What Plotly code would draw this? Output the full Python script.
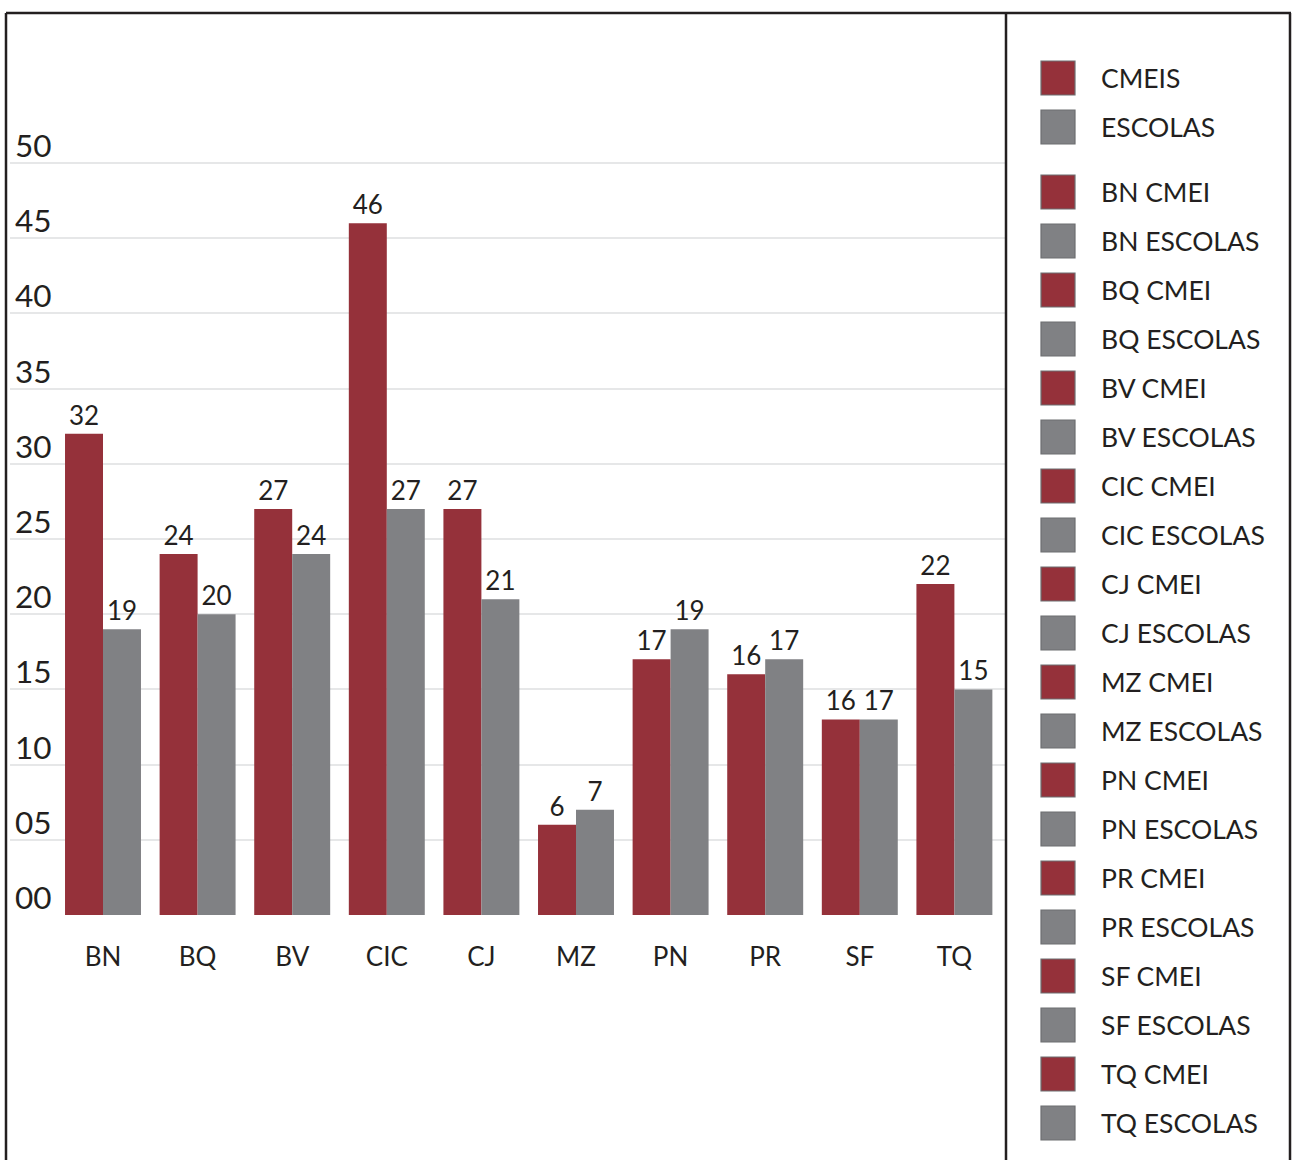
import plotly.graph_objects as go

# ---- data ----
categories = ["BN", "BQ", "BV", "CIC", "CJ", "MZ", "PN", "PR", "SF", "TQ"]
cmei_values = [32, 24, 27, 46, 27, 6, 17, 16, 13, 22]
escolas_values = [19, 20, 24, 27, 21, 7, 19, 17, 13, 15]
cmei_labels = ["32", "24", "27", "46", "27", "6", "17", "16", "16", "22"]
escolas_labels = ["19", "20", "24", "27", "21", "7", "19", "17", "17", "15"]
ytick_vals = [0, 5, 10, 15, 20, 25, 30, 35, 40, 45, 50]
ytick_text = ["00", "05", "10", "15", "20", "25", "30", "35", "40", "45", "50"]
legend_top = ["CMEIS", "ESCOLAS"]
legend_items = []
for c in categories:
    legend_items += [c + " CMEI", c + " ESCOLAS"]

# ---- style ----
W, H = 1292, 1160
RED = "#95313A"
GRAY = "#808184"
TXT = "#231F20"
FONT = "Lato"

fig = go.Figure()
fig.add_trace(go.Bar(x=categories, y=cmei_values, text=cmei_labels, name="CMEIS",
                     marker=dict(color=RED, line=dict(width=0)),
                     textposition="outside", cliponaxis=False,
                     textfont=dict(family=FONT, size=26, color=TXT)))
fig.add_trace(go.Bar(x=categories, y=escolas_values, text=escolas_labels, name="ESCOLAS",
                     marker=dict(color=GRAY, line=dict(width=0)),
                     textposition="outside", cliponaxis=False,
                     textfont=dict(family=FONT, size=26, color=TXT)))

px = lambda v: v / W
py = lambda v: 1 - v / H

x_left, x_right = 10, 1006
step = 94.6
r0 = -(103 - x_left) / step
r1 = r0 + (x_right - x_left) / step
unit = (915 - 163) / 50.0
ytop = 55

fig.update_layout(
    width=W, height=H, margin=dict(l=0, r=0, t=0, b=0),
    paper_bgcolor="white", plot_bgcolor="white",
    barmode="group", bargap=0.197, bargroupgap=0,
    showlegend=False,
    font=dict(family=FONT, color=TXT),
    xaxis=dict(domain=[px(x_left), px(x_right)], range=[r0, r1],
               showgrid=False, zeroline=False, showline=False,
               ticks="outside", ticklen=19, tickcolor="rgba(0,0,0,0)",
               tickfont=dict(family=FONT, size=26, color=TXT)),
    yaxis=dict(domain=[py(915), py(915 - unit * ytop)], range=[0, ytop],
               tickvals=ytick_vals, showticklabels=False,
               showgrid=True, gridcolor="#E6E7E8", gridwidth=2,
               zeroline=False, showline=False),
)

# y tick labels drawn above their grid lines
for v, t in zip(ytick_vals, ytick_text):
    fig.add_annotation(x=px(13), xref="paper", xanchor="left", y=v, yref="y",
                       yanchor="bottom", yshift=-3, text=t, showarrow=False,
                       font=dict(family=FONT, size=31.5, color=TXT))

# frame lines
line = dict(color=TXT, width=2.5)
fig.add_shape(type="line", xref="paper", yref="paper", x0=px(6), x1=px(1291), y0=py(13), y1=py(13), line=line)
fig.add_shape(type="line", xref="paper", yref="paper", x0=px(6), x1=px(6), y0=py(13), y1=py(1200), line=line)
fig.add_shape(type="line", xref="paper", yref="paper", x0=px(1006), x1=px(1006), y0=py(13), y1=py(1200), line=line)
fig.add_shape(type="line", xref="paper", yref="paper", x0=px(1290), x1=px(1290), y0=py(13), y1=py(1200), line=line)

# legend
def legend_row(label, color, yc):
    fig.add_shape(type="rect", xref="paper", yref="paper",
                  x0=px(1041), x1=px(1075), y0=py(yc + 17), y1=py(yc - 17),
                  fillcolor=color, line=dict(color="#6D6E71", width=1.2))
    fig.add_annotation(x=px(1099), xref="paper", xanchor="left", y=py(yc), yref="paper",
                       yanchor="middle", text=label, showarrow=False,
                       font=dict(family=FONT, size=26.5, color=TXT))

for i, lab in enumerate(legend_top):
    legend_row(lab, RED if i % 2 == 0 else GRAY, 78 + 49 * i)
for i, lab in enumerate(legend_items):
    legend_row(lab, RED if i % 2 == 0 else GRAY, 192 + 49 * i)

fig.write_html("out.html", config={"displayModeBar": False},
               post_script="document.body.style.margin='0';document.body.style.overflow='hidden';")
